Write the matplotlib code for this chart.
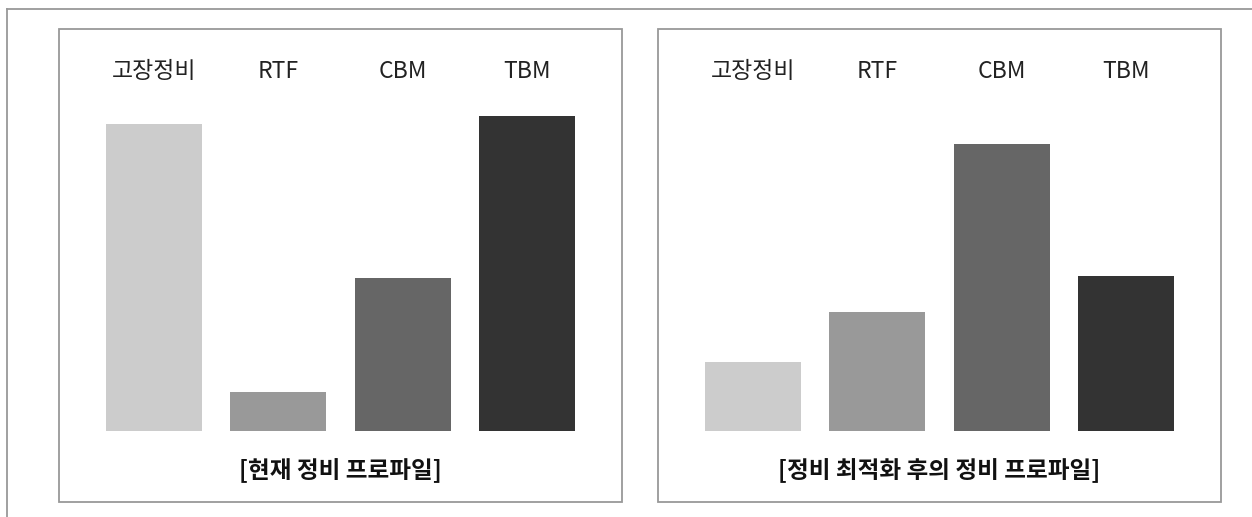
import matplotlib
matplotlib.use("Agg")
import matplotlib.pyplot as plt
from matplotlib.patches import Rectangle
from matplotlib.lines import Line2D

plt.rcParams['font.family'] = ['Noto Sans CJK KR', 'DejaVu Sans']

categories = ['고장정비', 'RTF', 'CBM', 'TBM']
current_values = [307, 39, 153, 315]
optimized_values = [69, 119, 287, 155]
titles = ['[현재 정비 프로파일]', '[정비 최적화 후의 정비 프로파일]']
bar_colors = ['#cccccc', '#999999', '#666666', '#333333']

W, H = 1252, 517
fig = plt.figure(figsize=(W / 100, H / 100), dpi=100)

def fx(px):
    return px / W

def fy(py):
    return 1 - py / H

# outer frame lines
fig.add_artist(Line2D([fx(7), fx(1252)], [fy(9), fy(9)], color='#999999', lw=1.3))
fig.add_artist(Line2D([fx(7), fx(7)], [fy(9), fy(517)], color='#999999', lw=1.3))

panels = [(59, 622), (658, 1221)]
panel_top, panel_bottom = 29, 502
bar_base = 431

for (x0, x1), vals, title in zip(panels, [current_values, optimized_values], titles):
    fig.add_artist(Rectangle((fx(x0), fy(panel_bottom)), fx(x1 - x0), (panel_bottom - panel_top) / H,
                             fill=False, edgecolor='#999999', lw=1.3))
    ax = fig.add_axes([fx(x0), fy(bar_base), fx(x1 - x0), (bar_base - panel_top) / H])
    ax.set_axis_off()
    span = (x1 - x0) / 124.5
    ax.set_xlim(1.5 - span / 2, 1.5 + span / 2)
    ax.set_ylim(0, bar_base - panel_top)
    xs = list(range(len(categories)))
    ax.bar(xs, vals, width=0.77, color=bar_colors)
    for x, c in zip(xs, categories):
        ax.text(x, bar_base - 71, c, ha='center', va='center', fontsize=16.5, color='#222222')
    fig.text(fx((x0 + x1) / 2), fy(471), title, ha='center', va='center',
             fontsize=17, fontweight='bold', color='#111111')

fig.savefig('out.png', dpi=100, facecolor='white')
